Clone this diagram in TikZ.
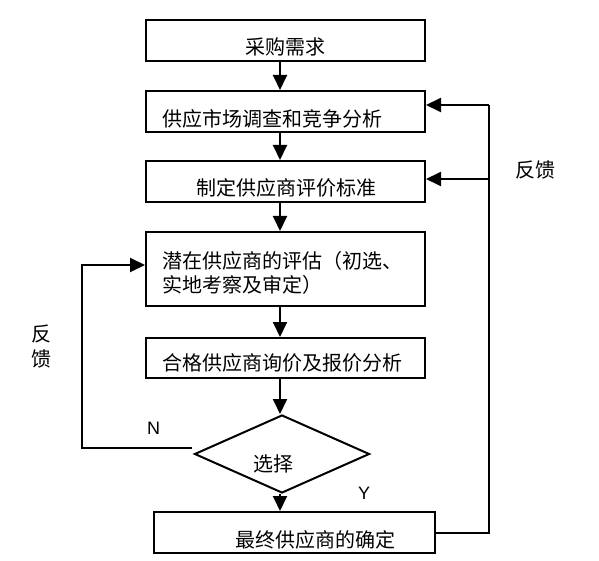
\documentclass[tikz,border=0pt]{standalone}
\usepackage{fontspec}
\setmainfont{Liberation Sans}
\newfontfamily\cjk{Noto Sans CJK SC}
\usetikzlibrary{arrows.meta,shapes.geometric}
\tikzset{
  boxnode/.style={draw, line width=2pt, rectangle, inner sep=0pt, minimum width=279pt},
  conn/.style={line width=2pt},
  arr/.style={line width=2pt, -{Triangle[length=15pt,width=14pt]}},
  cjktext/.style={inner sep=0pt, font=\cjk\fontsize{20}{24}\selectfont},
  lattext/.style={inner sep=0pt, font=\fontsize{18}{20}\selectfont}
}
\begin{document}
\begin{tikzpicture}[x=1pt,y=-1pt]
\useasboundingbox (0,0) rectangle (599,561);
% boxes
\node[boxnode, minimum height=41pt] (b1) at (285.5,40.5) {};
\node[boxnode, minimum height=41pt] (b2) at (285.5,111.5) {};
\node[boxnode, minimum height=41pt] (b3) at (285.5,181.5) {};
\node[boxnode, minimum height=74pt] (b4) at (285.5,269) {};
\node[boxnode, minimum height=40pt] (b5) at (285.5,358) {};
\node[boxnode, minimum width=281pt, minimum height=41pt] (b6) at (294.5,532.5) {};
\node[draw, line width=2pt, shape=diamond, inner sep=0pt, minimum width=175pt, minimum height=78pt] (d) at (282,454) {};
% texts
\node[cjktext] (t1) at (285,47) {采购需求};
\node[cjktext, anchor=west] (t2) at (162,119) {供应市场调查和竞争分析};
\node[cjktext] (t3) at (286,188) {制定供应商评价标准};
\node[cjktext, anchor=west, align=left] (t4) at (162,273) {潜在供应商的评估（初选、\\实地考察及审定）};
\node[cjktext, anchor=west] (t5) at (162,363) {合格供应商询价及报价分析};
\node[cjktext] (t6) at (315,540) {最终供应商的确定};
\node[cjktext] (td) at (273.5,464) {选择};
\node[lattext] (ln) at (153.5,428) {N};
\node[lattext] (ly) at (364,493) {Y};
\node[cjktext] (fr) at (535,170) {反馈};
\node[cjktext, align=center, font=\cjk\fontsize{20}{25}\selectfont] (fl) at (41,346.5) {反\\馈};
% main flow
\coordinate (ax) at (280,0);
\draw[arr] (b1.south -| ax) -- (b2.north -| ax);
\draw[arr] (b2.south -| ax) -- (b3.north -| ax);
\draw[arr] (b3.south -| ax) -- (b4.north -| ax);
\draw[arr] (b4.south -| ax) -- (b5.north -| ax);
\draw[arr] (b5.south -| ax) -- (d.north -| ax);
\draw[arr] (d.south -| ax) -- (b6.north -| ax);
% right feedback
\coordinate (f2) at (489,105);
\coordinate (f3) at (489,179);
\draw[conn] (b6.east) -- (b6.east -| f2) -- (f2);
\draw[arr] (f2) -- (f2 -| b2.east);
\draw[arr] (f3) -- (f3 -| b3.east);
% left feedback
\coordinate (f4) at (82,265);
\coordinate (nstart) at (192,448);
\draw[arr] (nstart) -- (nstart -| f4) -- (f4) -- (f4 -| b4.west);
\end{tikzpicture}
\end{document}
